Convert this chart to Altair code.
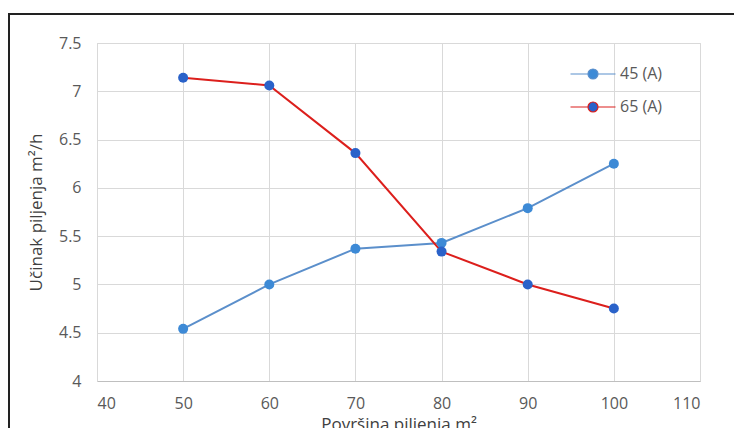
import altair as alt
import pandas as pd

# ---- data ----
povrsina = [50, 60, 70, 80, 90, 100]
serija_45 = [4.54, 5.00, 5.37, 5.43, 5.79, 6.25]
serija_65 = [7.14, 7.06, 6.36, 5.34, 5.00, 4.75]
series_names = ["45 (A)", "65 (A)"]
x_ticks = [40, 50, 60, 70, 80, 90, 100, 110]
y_ticks = [4, 4.5, 5, 5.5, 6, 6.5, 7, 7.5]

line_colors = ["#5b8fcb", "#dc1f1c"]
marker_colors = ["#3d8ad6", "#2a62c9"]

rows = []
for name, vals in zip(series_names, [serija_45, serija_65]):
    for x, y in zip(povrsina, vals):
        rows.append({"x": x, "y": y, "series": name})
df = pd.DataFrame(rows)

FONT = "Open Sans"

x_enc = alt.X("x:Q", scale=alt.Scale(domain=[40, 110], nice=False),
              axis=alt.Axis(values=x_ticks, title="Površina piljenja m²", format="d"))
y_enc = alt.Y("y:Q", scale=alt.Scale(domain=[4, 7.5], nice=False, zero=False),
              axis=alt.Axis(values=y_ticks, title="Učinak piljenja m²/h",
                            labelExpr="'' + datum.value"))

path = "M-2.25,0H-0.5M0.5,0H2.25M0.5,0A0.5,0.5,0,1,1,-0.5,0A0.5,0.5,0,1,1,0.5,0Z"
legend = alt.Legend(
    title=None, orient="none", legendX=485, legendY=20,
    symbolType=path, symbolSize=400, symbolStrokeWidth=1.2,
    labelFont=FONT, labelFontSize=16, labelColor="#595959",
    labelOffset=16, rowPadding=14,
)

stroke_scale = alt.Scale(domain=series_names, range=line_colors)

lines = alt.Chart(df).mark_line(strokeWidth=2).encode(
    x=x_enc, y=y_enc,
    stroke=alt.Stroke("series:N", scale=stroke_scale, legend=legend),
)
points = alt.Chart(df).mark_circle(size=100, opacity=1).encode(
    x=x_enc, y=y_enc,
    fill=alt.Fill("series:N", scale=alt.Scale(domain=series_names, range=marker_colors), legend=legend),
    stroke=alt.Stroke("series:N", scale=stroke_scale, legend=legend),
    strokeWidth=alt.value(0),
)

frame_df = pd.DataFrame({"k": [0]})
frame_top = alt.Chart(frame_df).mark_rule(color="#222222", strokeWidth=2).encode(
    x=alt.value(-89), x2=alt.value(720), y=alt.value(-29))
frame_left = alt.Chart(frame_df).mark_rule(color="#222222", strokeWidth=2).encode(
    x=alt.value(-88), y=alt.value(-30), y2=alt.value(420))

chart = alt.layer(lines, points, frame_top, frame_left).properties(
    width=603, height=338,
    autosize=alt.AutoSizeParams(type="none"),
    padding={"left": 89, "top": 35, "right": 34, "bottom": 47},
).configure_view(stroke="#d9d9d9", strokeWidth=1).configure_axis(
    labelFont=FONT, labelFontSize=16, labelColor="#595959",
    titleFont=FONT, titleFontSize=17, titleColor="#404040", titleFontWeight="normal",
    gridColor="#d9d9d9", gridWidth=1, domainColor="#bfbfbf", tickSize=0,
).configure_axisX(labelPadding=14, titlePadding=5).configure_axisY(
    labelPadding=16, titlePadding=13, domainColor="#d9d9d9"
)

chart.save("out.html", embed_options={"renderer": "svg", "actions": False})
